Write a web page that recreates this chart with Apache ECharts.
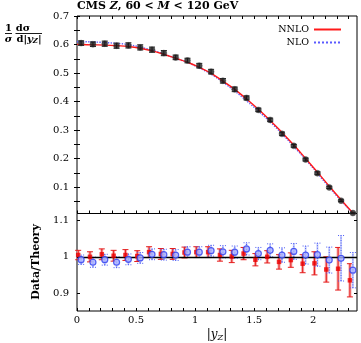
<!DOCTYPE html>
<html>
<head>
<meta charset="utf-8">
<script src="https://cdn.jsdelivr.net/npm/echarts@6/dist/echarts.min.js"></script>
<style>
html, body { margin: 0; padding: 0; background: #fff; }
#main { width: 361px; height: 343px; }
</style>
</head>
<body>
<div id="main"></div>
<script>
// bin positions of the measured points (|y_Z|)
var binX = [0.035, 0.135, 0.235, 0.335, 0.435, 0.535, 0.635, 0.735, 0.835, 0.935, 1.035, 1.135,
            1.235, 1.335, 1.435, 1.535, 1.635, 1.735, 1.835, 1.935, 2.035, 2.135, 2.235, 2.335];
// CMS data, 1/sigma dsigma/d|y_Z|
var dataY = [0.605, 0.601, 0.603, 0.596, 0.597, 0.590, 0.582, 0.570, 0.555, 0.544, 0.526, 0.505,
             0.473, 0.443, 0.413, 0.371, 0.336, 0.287, 0.245, 0.197, 0.149, 0.0995, 0.053, 0.0096];
var dataErr = [0.008, 0.008, 0.009, 0.009, 0.009, 0.009, 0.009, 0.009, 0.008, 0.008, 0.008, 0.008,
               0.008, 0.008, 0.007, 0.006, 0.006, 0.006, 0.005, 0.005, 0.005, 0.004, 0.003, 0.001];
// theory curves
var curveX = [0, 0.035, 0.135, 0.235, 0.335, 0.435, 0.535, 0.635, 0.735, 0.835, 0.935, 1.035, 1.135,
              1.235, 1.335, 1.435, 1.535, 1.635, 1.735, 1.835, 1.935, 2.035, 2.135, 2.235, 2.335, 2.37];
var nnloY = [0.6005, 0.600, 0.599, 0.598, 0.596, 0.593, 0.587, 0.578, 0.566, 0.552, 0.538, 0.520, 0.499,
             0.472, 0.443, 0.409, 0.373, 0.334, 0.292, 0.248, 0.201, 0.153, 0.104, 0.056, 0.010, -0.006];
var nloY = [0.610, 0.610, 0.609, 0.607, 0.604, 0.600, 0.591, 0.580, 0.567, 0.552, 0.537, 0.518, 0.496,
            0.468, 0.437, 0.403, 0.367, 0.329, 0.287, 0.243, 0.197, 0.149, 0.100, 0.053, 0.009, -0.007];
// Data/Theory
var ratioNNLO = [1.005, 1.000, 1.007, 1.003, 1.005, 1.002, 1.013, 1.008, 1.008, 1.012, 1.013, 1.013,
                 1.005, 1.001, 1.009, 0.992, 1.000, 0.986, 0.991, 0.981, 0.982, 0.965, 0.967, 0.935];
var ratioNNLOErr = [0.013, 0.014, 0.015, 0.015, 0.015, 0.015, 0.015, 0.015, 0.015, 0.015, 0.015, 0.015,
                    0.017, 0.017, 0.017, 0.017, 0.017, 0.020, 0.020, 0.025, 0.032, 0.035, 0.059, 0.046];
var ratioNLO = [0.992, 0.985, 0.992, 0.985, 0.993, 0.997, 1.007, 1.006, 1.005, 1.013, 1.013, 1.017,
                1.014, 1.013, 1.022, 1.009, 1.018, 1.005, 1.015, 1.005, 1.006, 0.991, 0.996, 0.963];
var ratioNLOErr = [0.013, 0.014, 0.015, 0.015, 0.015, 0.015, 0.015, 0.015, 0.015, 0.015, 0.015, 0.015,
                   0.017, 0.017, 0.017, 0.017, 0.018, 0.020, 0.022, 0.025, 0.032, 0.036, 0.063, 0.049];
// ticks
var xTicks = [0, 0.1, 0.2, 0.3, 0.4, 0.5, 0.6, 0.7, 0.8, 0.9, 1, 1.1, 1.2, 1.3, 1.4, 1.5, 1.6, 1.7, 1.8, 1.9, 2, 2.1, 2.2, 2.3];
var xLabels = [0, 0.5, 1, 1.5, 2];
var yTopTicks = [0.05, 0.1, 0.15, 0.2, 0.25, 0.3, 0.35, 0.4, 0.45, 0.5, 0.55, 0.6, 0.65, 0.7];
var yTopLabels = [0.1, 0.2, 0.3, 0.4, 0.5, 0.6, 0.7];
var yRatioLabels = [0.9, 1, 1.1];

var FONT = 'DejaVu Serif';
var RED_SHIFT = -0.025;   // ratio to NNLO drawn a bit to the left

var myChart = echarts.init(document.getElementById('main'));

function pts(xs, ys, dx) {
    return xs.map(function (x, i) { return [x + (dx || 0), ys[i]]; });
}
function bars(xs, ys, es, dx) {
    return xs.map(function (x, i) { return [x + (dx || 0), ys[i] - es[i], ys[i] + es[i]]; });
}
function capLine(p, w, style) {
    return { type: 'line', shape: { x1: p[0] - w, y1: p[1], x2: p[0] + w, y2: p[1] }, style: style };
}

function dataErrRender(params, api) {
    var x = api.value(0);
    var lo = api.coord([x, api.value(1)]);
    var hi = api.coord([x, api.value(2)]);
    var st = { stroke: '#111', lineWidth: 1 };
    return { type: 'group', children: [
        { type: 'line', shape: { x1: lo[0], y1: lo[1], x2: hi[0], y2: hi[1] }, style: st },
        capLine(lo, 3, st), capLine(hi, 3, st)
    ] };
}
function redErrRender(params, api) {
    var x = api.value(0);
    var lo = api.coord([x, api.value(1)]);
    var hi = api.coord([x, api.value(2)]);
    var band = { stroke: '#f7a3a3', lineWidth: 3 };
    var st = { stroke: '#e51c1c', lineWidth: 1 };
    return { type: 'group', children: [
        { type: 'line', shape: { x1: lo[0], y1: lo[1], x2: hi[0], y2: hi[1] }, style: band },
        { type: 'line', shape: { x1: lo[0], y1: lo[1], x2: hi[0], y2: hi[1] }, style: st },
        capLine(lo, 3, st), capLine(hi, 3, st)
    ] };
}
function blueErrRender(params, api) {
    var x = api.value(0);
    var lo = api.coord([x, api.value(1)]);
    var hi = api.coord([x, api.value(2)]);
    var band = { stroke: '#c9cffc', lineWidth: 2 };
    var st = { stroke: '#4a5af5', lineWidth: 1, lineDash: [1, 1.5] };
    return { type: 'group', children: [
        { type: 'line', shape: { x1: lo[0], y1: lo[1], x2: hi[0], y2: hi[1] }, style: band },
        { type: 'line', shape: { x1: lo[0], y1: lo[1], x2: hi[0], y2: hi[1] }, style: st },
        capLine(lo, 3, st), capLine(hi, 3, st)
    ] };
}

var tickStyle = { color: '#000', width: 1 };

option = {
    animation: false,
    backgroundColor: '#fff',
    textStyle: { fontFamily: FONT },
    grid: [
        { left: 77, top: 16, width: 280, height: 197.5, show: true, borderColor: '#000', borderWidth: 1 },
        { left: 77, top: 213.5, width: 280, height: 97.5, show: true, borderColor: '#000', borderWidth: 1 }
    ],
    legend: {
        orient: 'vertical',
        right: 14,
        top: 19.5,
        align: 'right',
        itemWidth: 27,
        itemHeight: 12,
        itemGap: 3,
        data: ['NNLO', 'NLO'],
        itemStyle: { opacity: 0 },
        textStyle: { fontFamily: FONT, fontSize: 9.5, color: '#000' }
    },
    xAxis: [
        { gridIndex: 0, type: 'value', min: 0, max: 2.37, position: 'bottom',
          axisLine: { show: false }, splitLine: { show: false }, axisLabel: { show: false },
          axisTick: { inside: true, length: 3, lineStyle: tickStyle, customValues: xTicks } },
        { gridIndex: 0, type: 'value', min: 0, max: 2.37, position: 'top',
          axisLine: { show: false }, splitLine: { show: false }, axisLabel: { show: false },
          axisTick: { inside: true, length: 3, lineStyle: tickStyle, customValues: xTicks } },
        { gridIndex: 1, type: 'value', min: 0, max: 2.37, position: 'bottom',
          axisLine: { show: false }, splitLine: { show: false },
          axisLabel: { customValues: xLabels, fontFamily: FONT, fontSize: 10, color: '#000', margin: 4 },
          axisTick: { inside: true, length: 3, lineStyle: tickStyle, customValues: xTicks } }
    ],
    yAxis: [
        { gridIndex: 0, type: 'value', min: 0.008, max: 0.7, position: 'left',
          axisLine: { show: false }, splitLine: { show: false },
          axisLabel: { customValues: yTopLabels, fontFamily: FONT, fontSize: 10, color: '#000', margin: 8 },
          axisTick: { inside: true, length: 3, lineStyle: tickStyle, customValues: yTopTicks } },
        { gridIndex: 0, type: 'value', min: 0.008, max: 0.7, position: 'right',
          axisLine: { show: false }, splitLine: { show: false }, axisLabel: { show: false },
          axisTick: { inside: true, length: 3, lineStyle: tickStyle, customValues: yTopTicks } },
        { gridIndex: 1, type: 'value', min: 0.85, max: 1.12, position: 'left',
          axisLine: { show: false }, splitLine: { show: false },
          axisLabel: { customValues: yRatioLabels, fontFamily: FONT, fontSize: 10, color: '#000', margin: 8 },
          axisTick: { inside: true, length: 3, lineStyle: tickStyle, customValues: yRatioLabels } },
        { gridIndex: 1, type: 'value', min: 0.85, max: 1.12, position: 'right',
          axisLine: { show: false }, splitLine: { show: false }, axisLabel: { show: false },
          axisTick: { inside: true, length: 3, lineStyle: tickStyle, customValues: yRatioLabels } }
    ],
    graphic: [
        { type: 'text', x: 77, y: 6, style: {
            text: '{b|CMS }{bi|Z}{b|, 60 < }{bi|M}{b| < 120 GeV}',
            verticalAlign: 'middle', fill: '#000',
            rich: {
                b: { fontFamily: FONT, fontWeight: 'bold', fontSize: 11, fill: '#000' },
                bi: { fontFamily: FONT, fontWeight: 'bold', fontStyle: 'italic', fontSize: 11, fill: '#000' }
            } } },
        // 1/sigma dsigma/d|y_Z|
        { type: 'text', x: 8.5, y: 28, style: { text: '1', fontFamily: FONT, fontWeight: 'bold', fontSize: 10,
            align: 'center', verticalAlign: 'middle', fill: '#000' } },
        { type: 'line', shape: { x1: 5, y1: 33.5, x2: 12, y2: 33.5 }, style: { stroke: '#000', lineWidth: 0.9 } },
        { type: 'text', x: 8.5, y: 39, style: { text: 'σ', fontFamily: FONT, fontWeight: 'bold', fontStyle: 'italic',
            fontSize: 10, align: 'center', verticalAlign: 'middle', fill: '#000' } },
        { type: 'text', x: 23, y: 28, style: { text: 'dσ', fontFamily: FONT, fontWeight: 'bold', fontSize: 10,
            align: 'center', verticalAlign: 'middle', fill: '#000' } },
        { type: 'line', shape: { x1: 15.5, y1: 33.5, x2: 42, y2: 33.5 }, style: { stroke: '#000', lineWidth: 0.9 } },
        { type: 'text', x: 29, y: 39.5, style: {
            text: '{n|d|}{i|y}{s|Z}{n||}', align: 'center', verticalAlign: 'middle', fill: '#000',
            rich: {
                n: { fontFamily: FONT, fontWeight: 'bold', fontSize: 10, fill: '#000' },
                i: { fontFamily: FONT, fontWeight: 'bold', fontStyle: 'italic', fontSize: 10, fill: '#000' },
                s: { fontFamily: FONT, fontWeight: 'bold', fontStyle: 'italic', fontSize: 7, fill: '#000', padding: [4, 0, 0, 0] }
            } } },
        // Data/Theory
        { type: 'text', x: 36, y: 262, rotation: Math.PI / 2, style: {
            text: 'Data/Theory', fontFamily: FONT, fontWeight: 'bold', fontSize: 11,
            align: 'center', verticalAlign: 'middle', fill: '#000' } },
        // |y_Z|
        { type: 'text', x: 217, y: 335, style: {
            text: '{n||}{i|y}{s|Z}{n||}', align: 'center', verticalAlign: 'middle', fill: '#000',
            rich: {
                n: { fontFamily: FONT, fontSize: 12, fill: '#000' },
                i: { fontFamily: FONT, fontStyle: 'italic', fontSize: 12, fill: '#000' },
                s: { fontFamily: FONT, fontStyle: 'italic', fontSize: 8, fill: '#000', padding: [5, 0, 0, 0] }
            } } }
    ],
    series: [
        {
            name: 'NNLO', type: 'line', xAxisIndex: 0, yAxisIndex: 0,
            data: pts(curveX, nnloY), smooth: true, symbol: 'none', z: 3,
            itemStyle: { color: '#ff1a1a' },
            lineStyle: { color: '#ff1a1a', width: 1.4 }
        },
        {
            name: 'NLO', type: 'line', xAxisIndex: 0, yAxisIndex: 0,
            data: pts(curveX, nloY), smooth: true, symbol: 'none', z: 2,
            itemStyle: { color: '#5a5aff' },
            lineStyle: { color: '#5a5aff', width: 1.4, type: 'dotted' }
        },
        {
            type: 'custom', xAxisIndex: 0, yAxisIndex: 0, z: 4,
            data: bars(binX, dataY, dataErr), renderItem: dataErrRender,
            encode: { x: 0, y: [1, 2] }
        },
        {
            type: 'scatter', xAxisIndex: 0, yAxisIndex: 0, z: 5,
            data: pts(binX, dataY), symbol: 'circle', symbolSize: 6,
            itemStyle: { color: '#1a1a1a', borderColor: '#555', borderWidth: 0.5 }
        },
        {
            type: 'custom', xAxisIndex: 2, yAxisIndex: 2, z: 4,
            data: bars(binX, ratioNNLO, ratioNNLOErr, RED_SHIFT), renderItem: redErrRender,
            encode: { x: 0, y: [1, 2] }
        },
        {
            type: 'custom', xAxisIndex: 2, yAxisIndex: 2, z: 4,
            data: bars(binX, ratioNLO, ratioNLOErr), renderItem: blueErrRender,
            encode: { x: 0, y: [1, 2] }
        },
        {
            type: 'scatter', xAxisIndex: 2, yAxisIndex: 2, z: 5,
            data: pts(binX, ratioNNLO, RED_SHIFT), symbol: 'rect', symbolSize: 4.5,
            itemStyle: { color: '#ee0000' },
            markLine: {
                silent: true, symbol: ['none', 'none'], label: { show: false },
                lineStyle: { color: '#000', width: 1.3, type: 'solid' },
                data: [{ yAxis: 1 }]
            }
        },
        {
            type: 'scatter', xAxisIndex: 2, yAxisIndex: 2, z: 5,
            data: pts(binX, ratioNLO), symbol: 'circle', symbolSize: 6,
            itemStyle: { color: '#a9b2ff', borderColor: '#2f3ff0', borderWidth: 1.2 }
        }
    ]
};
myChart.setOption(option);
</script>
</body>
</html>
